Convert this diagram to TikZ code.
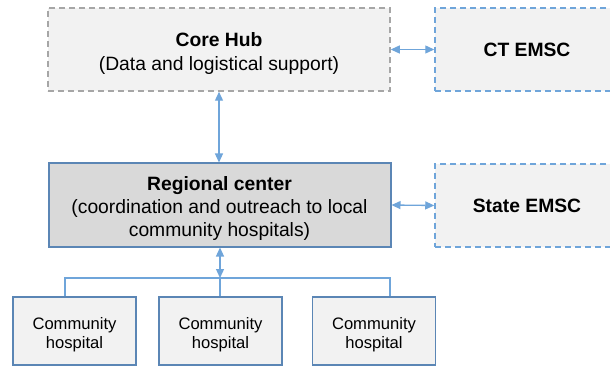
\documentclass[tikz,border=0pt]{standalone}
\usepackage{fontspec}
\setmainfont{Liberation Sans}
\usetikzlibrary{arrows.meta}
\definecolor{boxgray}{HTML}{F2F2F2}
\definecolor{centergray}{HTML}{D9D9D9}
\definecolor{dashgray}{HTML}{A6A6A6}
\definecolor{linkblue}{HTML}{6FA5DA}
\definecolor{edgeblue}{HTML}{5B86B5}
\newcommand{\topgap}[1]{\rule{0pt}{#1}}
\tikzset{
  hub/.style = {draw = dashgray, fill = boxgray, line width = 1.5pt, dash pattern = on 6pt off 4pt,
    minimum width = 342pt, minimum height = 83pt, align = center, inner sep = 0pt,
    font = \fontsize{19.3}{24}\selectfont},
  emsc/.style = {draw = linkblue, fill = boxgray, line width = 1.5pt, dash pattern = on 6pt off 4pt,
    minimum width = 184pt, minimum height = 83pt, align = center, inner sep = 0pt,
    font = \fontsize{19.3}{24}\selectfont\bfseries},
  center/.style = {draw = edgeblue, fill = centergray, line width = 2pt,
    minimum width = 342pt, minimum height = 83pt, align = center, inner sep = 0pt,
    font = \fontsize{19.3}{23}\selectfont},
  hospital/.style = {draw = edgeblue, fill = boxgray, line width = 1.5pt,
    minimum width = 123pt, minimum height = 68pt, align = center, inner sep = 0pt,
    font = \fontsize{16.6}{19}\selectfont},
  link/.style = {draw = linkblue, line width = 1.3pt},
  twoway/.style = {link, {Triangle[length=9pt,width=8pt]}-{Triangle[length=9pt,width=8pt]}}
}
\begin{document}
\begin{tikzpicture}[x = 1pt, y = -1pt]
\useasboundingbox (0,0) rectangle (610,366);
\clip (0,0) rectangle (610,366);
\node at (219,49.5) [hub](core){\topgap{22pt}\textbf{Core Hub}\\(Data and logistical support)};
\node at (527,49.5) [emsc](ct){CT EMSC};
\node at (219.5,205) [center](reg){\topgap{21pt}\textbf{Regional center}\\(coordination and outreach to local\\community hospitals)};
\node at (527,205.5) [emsc](state){State EMSC};
\node at (74.5,331) [hospital](h1){\topgap{20pt}Community\\hospital};
\node at (220.5,331) [hospital](h2){\topgap{20pt}Community\\hospital};
\node at (374,331) [hospital](h3){\topgap{20pt}Community\\hospital};
\coordinate (busL) at (65,278);
\coordinate (busM) at (220,278);
\coordinate (busR) at (390,278);
\draw[twoway] (core.east) -- (ct.west);
\draw[twoway] (reg.east) -- (state.west);
\draw[twoway] (core.south) -- (core.south |- reg.north);
\draw[link] (busL |- h1.north) -- (busL) -- (busR) -- (busR |- h3.north);
\draw[link] (busM) -- (busM |- h2.north);
\draw[twoway] (busM |- reg.south) -- (busM);
\end{tikzpicture}
\end{document}
